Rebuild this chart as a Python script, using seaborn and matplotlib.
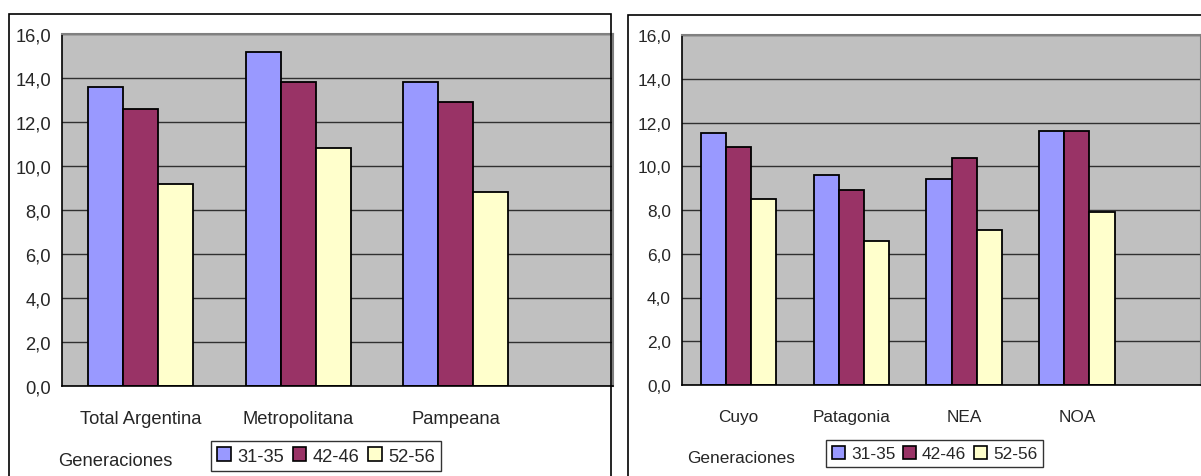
import matplotlib
matplotlib.use("Agg")
import matplotlib.pyplot as plt
from matplotlib.patches import Patch, Rectangle
import seaborn as sns
import pandas as pd

# data
generaciones = ["31-35", "42-46", "52-56"]
colores = ["#9999FF", "#993366", "#FFFFCC"]

regiones_izq = ["Total Argentina", "Metropolitana", "Pampeana"]
izq_31_35 = [13.6, 15.2, 13.8]
izq_42_46 = [12.6, 13.8, 12.9]
izq_52_56 = [9.2, 10.8, 8.8]

regiones_der = ["Cuyo", "Patagonia", "NEA", "NOA"]
der_31_35 = [11.5, 9.6, 9.4, 11.6]
der_42_46 = [10.9, 8.9, 10.4, 11.6]
der_52_56 = [8.5, 6.6, 7.1, 7.9]

yticks = [0, 2, 4, 6, 8, 10, 12, 14, 16]

W, H = 1201, 477


def px(x, y):
    return x / W, 1 - y / H


def to_long(regiones, series):
    rows = []
    for gen, vals in zip(generaciones, series):
        for reg, v in zip(regiones, vals):
            rows.append({"region": reg, "gen": gen, "valor": v})
    return pd.DataFrame(rows)


def draw_panel(ax, regiones, series, fs, xmax):
    df = to_long(regiones, series)
    sns.barplot(data=df, x="region", y="valor", hue="gen", order=regiones,
                hue_order=generaciones, palette=colores, saturation=1,
                width=0.667, edgecolor="black", linewidth=1.3, errorbar=None,
                legend=False, ax=ax)
    ax.set_facecolor("#C0C0C0")
    ax.set_axisbelow(True)
    ax.set_xlim(-0.5, xmax)
    ax.set_ylim(0, 16)
    ax.set_yticks(yticks)
    ax.set_yticklabels([f"{v:.1f}".replace(".", ",") for v in yticks], fontsize=fs)
    ax.yaxis.grid(True, color="#303030", linewidth=1.0)
    ax.xaxis.grid(False)
    ax.set_xticks(range(len(regiones)))
    ax.set_xticklabels(regiones, fontsize=fs)
    ax.set_xticks([i + 0.5 for i in range(len(regiones))], minor=True)
    ax.tick_params(axis="x", which="major", length=0, pad=17)
    ax.tick_params(axis="x", which="minor", length=5, width=1, color="black")
    ax.tick_params(axis="y", length=4, width=1, color="black", pad=4)
    ax.set_xlabel("")
    ax.set_ylabel("")
    for s in ["top", "right"]:
        ax.spines[s].set_color("#808080")
        ax.spines[s].set_linewidth(1.5)
    for s in ["left", "bottom"]:
        ax.spines[s].set_color("black")
        ax.spines[s].set_linewidth(1.2)


sns.set_theme(style="white")
plt.rcParams["font.family"] = ["Liberation Sans", "DejaVu Sans"]

fig = plt.figure(figsize=(W / 100, H / 100), dpi=100)
fig.patch.set_facecolor("white")

# outer chart frames
x0, y0 = px(9, 15)
fig.add_artist(Rectangle((x0, -0.02), px(611, 0)[0] - x0, y0 + 0.02,
                         transform=fig.transFigure, fill=False,
                         edgecolor="black", linewidth=1.2))
x0, y0 = px(628, 16)
fig.add_artist(Rectangle((x0, -0.02), 1.05 - x0, y0 + 0.02,
                         transform=fig.transFigure, fill=False,
                         edgecolor="black", linewidth=1.2))

l, t = px(62, 35)
_, b = px(0, 387)
ax1 = fig.add_axes([l, b, 613 / W - l, t - b])
draw_panel(ax1, regiones_izq, [izq_31_35, izq_42_46, izq_52_56], 13.2, 3.0)

l, t = px(682, 36)
_, b = px(0, 386)
ax2 = fig.add_axes([l, b, 1.0 - l, t - b])
draw_panel(ax2, regiones_der, [der_31_35, der_42_46, der_52_56], 12.4, 4.1)

handles = [Patch(facecolor=c, edgecolor="black", linewidth=1.2) for c in colores]

for ax, gx, gy, lx, ly, fs in [(ax1, 58, 462, 211, 442, 13.2),
                               (ax2, 687, 459, 826, 441, 12.4)]:
    fig.text(*px(gx, gy), "Generaciones", fontsize=fs, ha="left", va="center")
    leg = ax.legend(handles, generaciones, ncol=3, loc="upper left",
                    bbox_to_anchor=px(lx, ly), bbox_transform=fig.transFigure,
                    fontsize=fs, frameon=True, fancybox=False, borderaxespad=0,
                    handlelength=0.75, handleheight=0.75, handletextpad=0.35,
                    columnspacing=0.45, borderpad=0.35)
    leg.get_frame().set_edgecolor("black")
    leg.get_frame().set_linewidth(1.0)
    leg.get_frame().set_facecolor("white")

fig.savefig("out.png", dpi=100)
